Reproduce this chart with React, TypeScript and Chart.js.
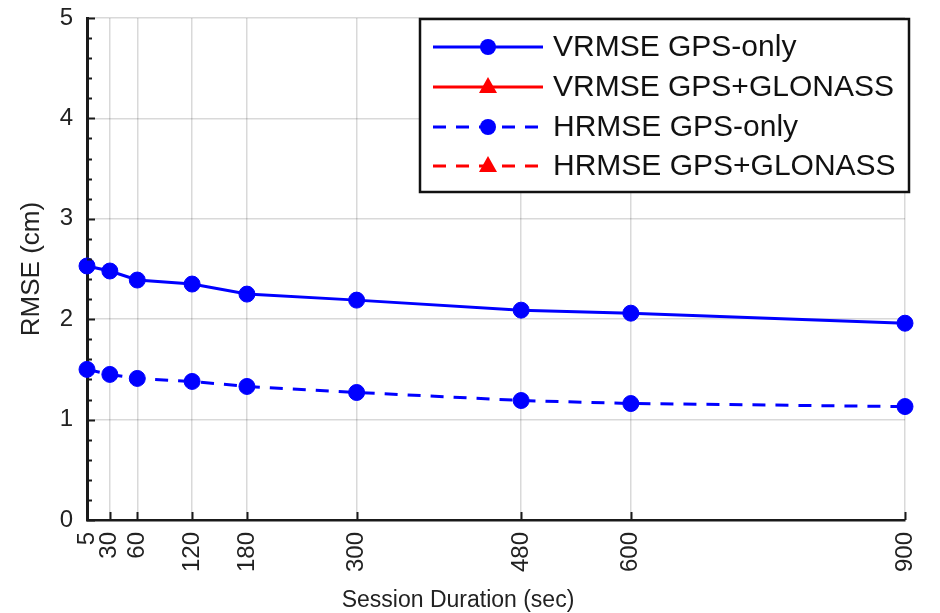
import React, { useEffect, useRef } from "react";
import { Chart, registerables } from "chart.js";

Chart.register(...registerables);

const durations = [5, 30, 60, 120, 180, 300, 480, 600, 900];
const vrmseGpsOnly = [2.53, 2.48, 2.39, 2.35, 2.25, 2.19, 2.09, 2.06, 1.96];
const hrmseGpsOnly = [1.5, 1.45, 1.41, 1.38, 1.33, 1.27, 1.19, 1.16, 1.13];
const vrmseGpsGlonass: number[] = [];
const hrmseGpsGlonass: number[] = [];
const seriesLabels = [
  "VRMSE GPS-only",
  "VRMSE GPS+GLONASS",
  "HRMSE GPS-only",
  "HRMSE GPS+GLONASS",
];
const yTicks = [0, 1, 2, 3, 4, 5];
const xTitle = "Session Duration (sec)";
const yTitle = "RMSE (cm)";

const FONT = '"Liberation Sans", Arial, Helvetica, sans-serif';
const BLUE = "#0000ff";
const RED = "#ff0000";
const AXIS = "#1a1a1a";

const toPoints = (vals: number[]) =>
  vals.map((v, i) => ({ x: durations[i], y: v }));

const decorPlugin = {
  id: "decor",
  afterDraw(chart: any) {
    const ctx = chart.ctx as CanvasRenderingContext2D;
    const xs = chart.scales.x;
    const ys = chart.scales.y;
    const ca = chart.chartArea;
    ctx.save();
    // inward ticks on y axis (major + minor)
    ctx.strokeStyle = AXIS;
    ctx.lineWidth = 2;
    for (let i = 0; i <= 25; i++) {
      const v = i * 0.2;
      const y = Math.round(ys.getPixelForValue(v)) + 0.5;
      const len = i % 5 === 0 ? 8 : 5;
      ctx.beginPath();
      ctx.moveTo(ca.left, y);
      ctx.lineTo(ca.left + len, y);
      ctx.stroke();
    }
    // inward ticks on x axis
    for (const d of durations) {
      const x = Math.round(xs.getPixelForValue(d)) + 0.5;
      ctx.beginPath();
      ctx.moveTo(x, ca.bottom);
      ctx.lineTo(x, ca.bottom - 8);
      ctx.stroke();
    }
    // axis titles
    ctx.fillStyle = "#222";
    ctx.font = `23px ${FONT}`;
    ctx.textAlign = "center";
    ctx.textBaseline = "middle";
    ctx.fillText(xTitle, 458, 601);
    ctx.save();
    ctx.translate(32, (ca.top + ca.bottom) / 2);
    ctx.rotate(-Math.PI / 2);
    ctx.font = `26px ${FONT}`;
    ctx.fillText(yTitle, 0, 0);
    ctx.restore();

    // legend
    const bx = 420, by = 19, bw = 489, bh = 173;
    ctx.fillStyle = "#ffffff";
    ctx.fillRect(bx, by, bw, bh);
    ctx.strokeStyle = "#111";
    ctx.lineWidth = 2.5;
    ctx.strokeRect(bx, by, bw, bh);
    const rows = [47, 87, 127, 166];
    chart.data.datasets.forEach((ds: any, i: number) => {
      const y = rows[i];
      ctx.strokeStyle = ds.borderColor;
      ctx.lineWidth = 3;
      ctx.setLineDash(ds.borderDash || []);
      ctx.beginPath();
      ctx.moveTo(433, y);
      ctx.lineTo(543, y);
      ctx.stroke();
      ctx.setLineDash([]);
      ctx.fillStyle = ds.borderColor;
      if (ds.pointStyle === "triangle") {
        ctx.beginPath();
        ctx.moveTo(488, y - 10);
        ctx.lineTo(497, y + 6);
        ctx.lineTo(479, y + 6);
        ctx.closePath();
        ctx.fill();
      } else {
        ctx.beginPath();
        ctx.arc(488, y, 8, 0, Math.PI * 2);
        ctx.fill();
      }
      ctx.fillStyle = "#111";
      ctx.font = `30px ${FONT}`;
      ctx.textAlign = "left";
      ctx.textBaseline = "middle";
      ctx.fillText(ds.label, 553, y + 1);
    });
    ctx.restore();
  },
};

export default function App() {
  const ref = useRef<HTMLCanvasElement | null>(null);

  useEffect(() => {
    document.body.style.margin = "0";
    const canvas = ref.current;
    if (!canvas) return;
    const mk = (
      label: string,
      vals: number[],
      color: string,
      dashed: boolean,
      style: string
    ) => ({
      label,
      data: toPoints(vals),
      borderColor: color,
      backgroundColor: color,
      borderWidth: 3,
      borderDash: dashed ? [13, 10] : [],
      pointStyle: style,
      pointRadius: 8,
      pointBorderWidth: 1,
      pointBackgroundColor: color,
      pointBorderColor: color,
      tension: 0,
      clip: false as any,
    });
    const chart = new Chart(canvas, {
      type: "line",
      data: {
        datasets: [
          mk(seriesLabels[0], vrmseGpsOnly, BLUE, false, "circle"),
          mk(seriesLabels[1], vrmseGpsGlonass, RED, false, "triangle"),
          mk(seriesLabels[2], hrmseGpsOnly, BLUE, true, "circle"),
          mk(seriesLabels[3], hrmseGpsGlonass, RED, true, "triangle"),
        ],
      },
      options: {
        responsive: false,
        animation: false,
        layout: { padding: { top: 18, right: 35, left: 0, bottom: 0 } },
        plugins: {
          legend: { display: false },
          tooltip: { enabled: false },
        },
        scales: {
          x: {
            type: "linear",
            min: 5,
            max: 900,
            afterBuildTicks: (scale: any) => {
              scale.ticks = durations.map((v) => ({ value: v }));
            },
            afterFit: (scale: any) => {
              scale.height = 93;
              scale.paddingLeft = 0;
              scale.paddingRight = 0;
            },
            ticks: {
              autoSkip: false,
              minRotation: 90,
              maxRotation: 90,
              padding: 12,
              color: "#222",
              font: { family: FONT, size: 24 },
              callback: (v: any) => String(v),
            },
            grid: {
              color: "rgba(0,0,0,0.15)",
              lineWidth: 1.5,
              drawTicks: false,
            },
            border: { display: true, color: AXIS, width: 2.5 },
          },
          y: {
            type: "linear",
            min: 0,
            max: 5,
            afterBuildTicks: (scale: any) => {
              scale.ticks = yTicks.map((v) => ({ value: v }));
            },
            afterFit: (scale: any) => {
              scale.width = 87;
              scale.paddingTop = 0;
              scale.paddingBottom = 0;
            },
            ticks: {
              padding: 14,
              color: "#222",
              font: { family: FONT, size: 24 },
            },
            grid: {
              color: "rgba(0,0,0,0.15)",
              lineWidth: 1.5,
              drawTicks: false,
            },
            border: { display: true, color: AXIS, width: 3 },
          },
        },
      },
      plugins: [decorPlugin],
    } as any);
    return () => chart.destroy();
  }, []);

  return (
    <div style={{ width: 940, height: 613, background: "#fff" }}>
      <canvas
        ref={ref}
        width={940}
        height={613}
        style={{ display: "block", width: 940, height: 613 }}
      />
    </div>
  );
}
